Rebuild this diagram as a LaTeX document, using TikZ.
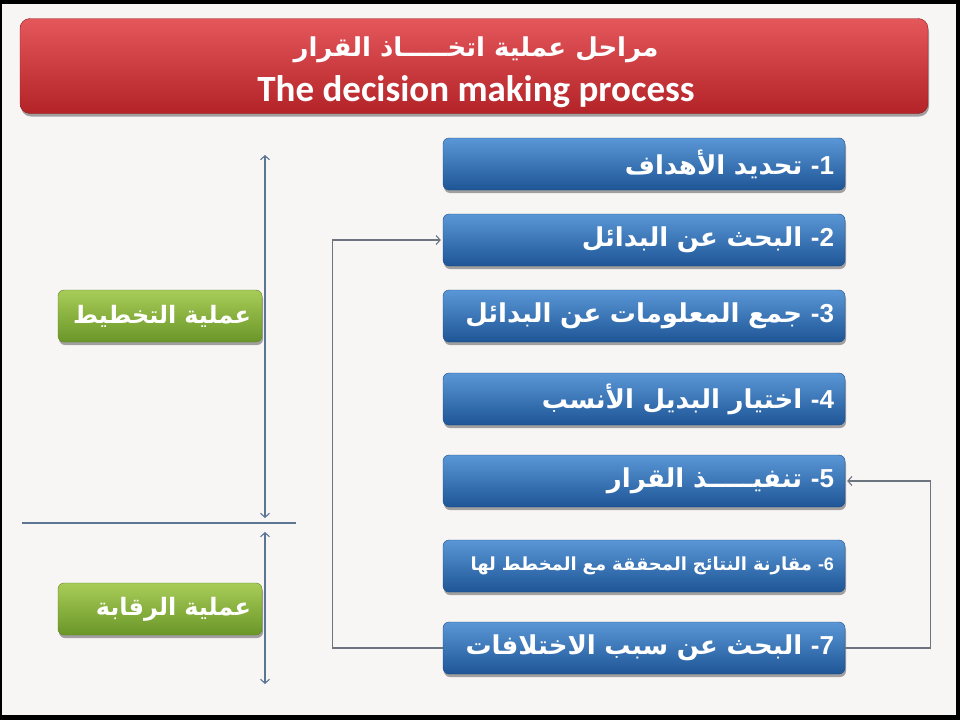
\documentclass[tikz,border=0pt]{standalone}
\usepackage{fontspec}
\setmainfont{Liberation Sans}
\newfontfamily\arfont[Script=Arabic]{DejaVu Sans}
\newfontfamily\latfont{Carlito}
\newfontfamily\numfont{Liberation Sans}
\TeXXeTstate=1
\usetikzlibrary{arrows.meta}
\definecolor{bgc}{HTML}{F8F5F5}
\definecolor{redtop}{HTML}{E4575B}
\definecolor{redbot}{HTML}{B32328}
\definecolor{bluetop}{HTML}{5A97D6}
\definecolor{bluebot}{HTML}{1E5596}
\definecolor{blueedge}{HTML}{1D4E85}
\definecolor{greentop}{HTML}{A8CC58}
\definecolor{greenbot}{HTML}{6A9628}
\definecolor{greenedge}{HTML}{5E8424}
\definecolor{linec}{HTML}{5B7593}
\definecolor{fbc}{HTML}{6C7480}
\tikzset{
  shadowed/.style={preaction={fill=black, opacity=0.35, transform canvas={yshift=-3pt, xshift=1pt}}},
  titlebox/.style={shadowed, rounded corners=10pt, draw=redbot!80!black, top color=redtop, bottom color=redbot,
    minimum width=908pt, minimum height=95pt, inner sep=0pt},
  titletext/.style={text=white, inner sep=0pt, anchor=base},
  stepbox/.style={shadowed, rounded corners=6pt, draw=blueedge, top color=bluetop, bottom color=bluebot,
    minimum height=52pt, text width=380pt, inner xsep=11pt, inner ysep=0pt, align=right, text=white,
    font=\arfont\bfseries\fontsize{26}{29}\selectfont},
  phasebox/.style={shadowed, rounded corners=6pt, draw=greenedge, top color=greentop, bottom color=greenbot,
    minimum height=52pt, text width=182pt, inner xsep=11pt, inner ysep=0pt, align=right, text=white,
    font=\arfont\bfseries\fontsize{24}{28}\selectfont},
  dbl/.style={draw=linec, line width=1.1pt, {Straight Barb[length=4pt,width=9pt]}-{Straight Barb[length=4pt,width=9pt]}},
  divider/.style={draw=linec, line width=1.1pt},
  fb/.style={draw=fbc, line width=1.1pt, -{Straight Barb[length=4pt,width=9pt]}, shorten >=2pt},
}
\newcommand{\stepnum}[1]{\ {\numfont\bfseries #1}}
\begin{document}
\begin{tikzpicture}[x=1pt, y=-1pt]
  \useasboundingbox (0,0) rectangle (960,720);
  \fill[black] (0,0) rectangle (960,720);
  \fill[bgc] (2,4) rectangle (956,715);

  % title
  \node[titlebox] (title) at (474,66) {};
  \node[titletext, font=\arfont\bfseries\fontsize{26}{30}\selectfont] (titleAr) at (476,56)
    {\beginR مراحل عملية اتخـــــاذ القرار\endR};
  \node[titletext, font=\latfont\bfseries\fontsize{37}{40}\selectfont] (titleEn) at (476,101)
    {The decision making process};

  % steps
  \node[stepbox] (s1) at (644,164) {\beginR تحديد الأهداف\endR\stepnum{-1}};
  \node[stepbox] (s2) at (644,240) {\beginR البحث عن البدائل\endR\stepnum{-2}};
  \node[stepbox] (s3) at (644,316) {\beginR جمع المعلومات عن البدائل\endR\stepnum{-3}};
  \node[stepbox] (s4) at (644,399) {\beginR اختيار البديل الأنسب\endR\stepnum{-4}};
  \node[stepbox] (s5) at (644,481) {\beginR تنفيـــــذ القرار\endR\stepnum{-5}};
  \node[stepbox, font=\arfont\bfseries\fontsize{18}{21}\selectfont] (s6) at (644,566) {\beginR مقارنة النتائج المحققة مع المخطط لها\endR\stepnum{-6}};
  \node[stepbox] (s7) at (644,648) {\beginR البحث عن سبب الاختلافات\endR\stepnum{-7}};

  % phases
  \node[phasebox] (plan) at (160,316) {\beginR عملية التخطيط\endR};
  \node[phasebox] (ctrl) at (160,609) {\beginR عملية الرقابة\endR};

  % left brackets
  \coordinate (pTop) at (265,155);
  \coordinate (pBot) at (265,518);
  \coordinate (cTop) at (265,532);
  \coordinate (cBot) at (265,684);
  \coordinate (divL) at (22,523);
  \coordinate (divR) at (296,523);
  \draw[dbl] (pTop) -- (pBot);
  \draw[dbl] (cTop) -- (cBot);
  \draw[divider] (divL) -- (divR);

  % feedback loops
  \draw[fb] (s7.west) -- ++(-110,0) |- (s2.west);
  \draw[fb] (s7.east) -- ++(85,0) |- (s5.east);
\end{tikzpicture}
\end{document}
